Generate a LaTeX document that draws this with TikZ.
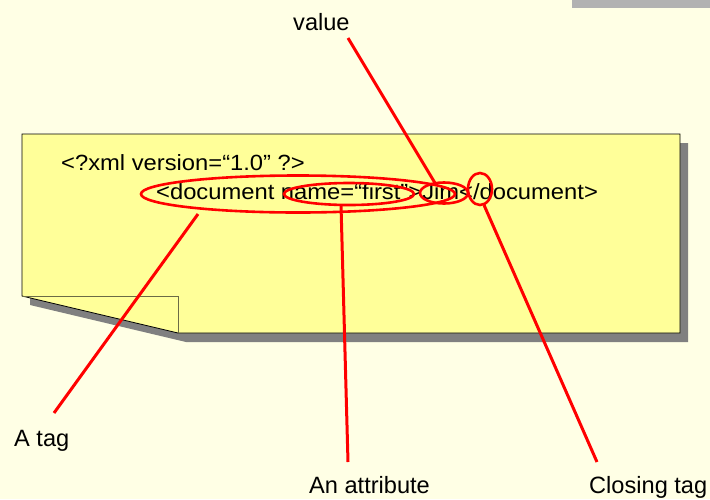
\documentclass[tikz,border=0pt]{standalone}
\usepackage{fontspec}
\setmainfont{Liberation Sans}
\newfontfamily\codefont[FakeStretch=1.08]{Liberation Sans}
\usetikzlibrary{shapes.geometric}
\definecolor{bgc}{HTML}{FFFFE5}
\definecolor{notec}{HTML}{FFFF99}
\definecolor{shadc}{HTML}{808080}
\definecolor{graybar}{HTML}{B2B2B2}
\definecolor{foldc}{HTML}{6B6B45}
\tikzset{
  lbl/.style={anchor=base west, inner sep=0pt, font=\fontsize{23.6}{28}\selectfont},
  code/.style={anchor=base west, inner sep=0pt, font=\codefont\fontsize{22}{26}\selectfont},
  ring/.style={ellipse, draw=red, line width=2.6pt, inner sep=0pt},
  pointer/.style={draw=red, line width=3pt}
}
\begin{document}
\begin{tikzpicture}[x=1pt,y=-1pt]
\fill[bgc] (0,0) rectangle (710,499);
\useasboundingbox (0,0) rectangle (710,499);
\fill[graybar] (572,0) rectangle (710,8);
% shadow
\fill[shadc] (30,305) -- (30,143) -- (688,143) -- (688,342) -- (186,342) -- cycle;
% note
\draw[fill=notec, line width=0.8pt] (22,134) -- (680,134) -- (680,333) -- (178,333) -- (22,296) -- cycle;
\draw[foldc, line width=0.8pt] (22,296) -- (178,296) -- (178,333);
% text
\node[code] (l1) at (61,170) {<?xml version=“1.0” ?>};
\node[code] (l2) at (156,199) {<document name=“first”>Jim</document>};
% ellipses
\node[ring, minimum width=314pt, minimum height=37pt] (tagE) at (298,194) {};
\node[ring, minimum width=130pt, minimum height=22pt] (attE) at (349,194) {};
\node[ring, minimum width=48pt, minimum height=21pt] (jimE) at (444,193) {};
\node[ring, minimum width=24pt, minimum height=32pt] (clsE) at (480,189) {};
% labels
\node[lbl] (vL) at (293,30) {value};
\node[lbl] (tL) at (14,446) {A tag};
\node[lbl] (aL) at (309,493) {An attribute};
\node[lbl] (cL) at (589,493) {Closing tag};
% connector ends
\coordinate (v1) at (348,38);
\coordinate (v2) at (435,183);
\coordinate (t1) at (54,413);
\coordinate (t2) at (198,214);
\coordinate (a1) at (348,462);
\coordinate (a2) at (341,205);
\coordinate (c1) at (597,462);
\coordinate (c2) at (484,205);
\draw[pointer] (v1) -- (v2);
\draw[pointer] (t1) -- (t2);
\draw[pointer] (a1) -- (a2);
\draw[pointer] (c1) -- (c2);
\end{tikzpicture}
\end{document}
